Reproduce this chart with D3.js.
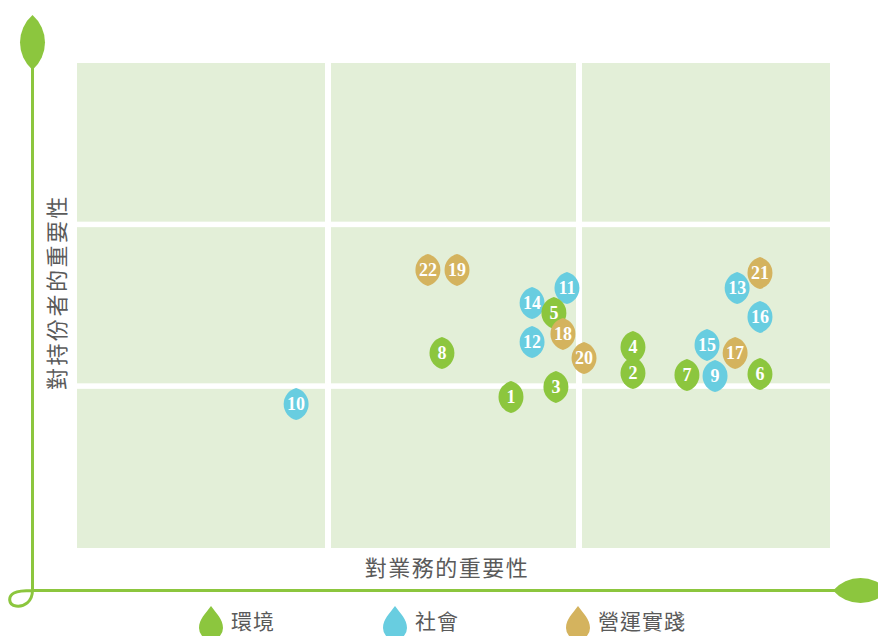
<!DOCTYPE html>
<html>
<head>
<meta charset="utf-8">
<script src="https://cdnjs.cloudflare.com/ajax/libs/d3/7.8.5/d3.min.js"></script>
<style>
  body { margin: 0; background: #fff; }
  .lbl { font-family: "Noto Sans CJK TC", "Noto Sans CJK SC", sans-serif; fill: #5a5a5a; }
</style>
</head>
<body>
<script>
    //Define Margin
    var margin = {left: 77, right: 48, top: 63, bottom: 88},
        width = 878 - margin.left - margin.right,
        height = 636 - margin.top - margin.bottom;

    //Define Color (one per topic group)
    var colors = d3.scaleOrdinal()
        .domain(["環境", "社會", "營運實踐"])
        .range(["#8cc63e", "#68cde0", "#d4b35e"]);

    //Define SVG
    var svg = d3.select("body")
        .append("svg")
        .attr("width", width + margin.left + margin.right)
        .attr("height", height + margin.top + margin.bottom)
        .append("g")
        .attr("transform", "translate(" + margin.left + "," + margin.top + ")");
    var graph = d3.select("svg");

    //Define Scales - 3 levels (low / mid / high) on each axis
    var xScale = d3.scaleLinear().domain([0, 3]).range([0, width]);
    var yScale = d3.scaleLinear().domain([0, 3]).range([height, 0]);

    //x = importance to business, y = importance to stakeholders
    //drawn social first, then environment, then operations (that's how they overlap)
    var data = [
        {id: 9,  group: "社會", x: 2.542, y: 1.064},
        {id: 10, group: "社會", x: 0.873, y: 0.890},
        {id: 11, group: "社會", x: 1.952, y: 1.608},
        {id: 12, group: "社會", x: 1.813, y: 1.274},
        {id: 13, group: "社會", x: 2.630, y: 1.608},
        {id: 14, group: "社會", x: 1.813, y: 1.515},
        {id: 15, group: "社會", x: 2.510, y: 1.256},
        {id: 16, group: "社會", x: 2.721, y: 1.429},
        {id: 1,  group: "環境", x: 1.729, y: 0.934},
        {id: 2,  group: "環境", x: 2.215, y: 1.082},
        {id: 3,  group: "環境", x: 1.908, y: 0.996},
        {id: 4,  group: "環境", x: 2.215, y: 1.243},
        {id: 5,  group: "環境", x: 1.900, y: 1.454},
        {id: 6,  group: "環境", x: 2.721, y: 1.076},
        {id: 7,  group: "環境", x: 2.430, y: 1.070},
        {id: 8,  group: "環境", x: 1.454, y: 1.206},
        {id: 17, group: "營運實踐", x: 2.622, y: 1.206},
        {id: 18, group: "營運實踐", x: 1.936, y: 1.324},
        {id: 19, group: "營運實踐", x: 1.514, y: 1.720},
        {id: 20, group: "營運實踐", x: 2.020, y: 1.175},
        {id: 21, group: "營運實踐", x: 2.721, y: 1.701},
        {id: 22, group: "營運實踐", x: 1.398, y: 1.720}
    ];

    //background cells, 3x3 with white gutters between them
    var gap = 3;
    var cells = [];
    d3.range(3).forEach(function(i) {
        d3.range(3).forEach(function(j) { cells.push({c: i, r: j}); });
    });
    svg.selectAll(".cell")
        .data(cells)
        .enter().append("rect")
        .attr("class", "cell")
        .attr("x", function(d) { return xScale(d.c) + (d.c > 0 ? gap : 0); })
        .attr("y", function(d) { return yScale(d.r + 1) + (d.r < 2 ? gap - 0.5 : 0); })
        .attr("width", function(d) { return xScale(d.c + 1) - xScale(d.c) - (d.c > 0 ? gap : 0) - (d.c < 2 ? gap : 0); })
        .attr("height", function(d) { return yScale(d.r) - yScale(d.r + 1) - (d.r > 0 ? gap : 0) - (d.r < 2 ? gap - 0.5 : 0); })
        .style("fill", "#e3efd8");

    //the leaf axes: vertical stem, a little curl at the corner, horizontal stem
    var green = "#8cc63e";
    graph.append("path")
        .attr("d", "M32.5,68 L32.5,590 C32.5,602 24,607 16,606 C8,605 8,596 14,593 C18,591 24,590.5 32.5,590.5 L836,590.5")
        .style("fill", "none")
        .style("stroke", green)
        .style("stroke-width", 3);
    //top leaf
    graph.append("path")
        .attr("d", "M32.5,15 A36.5,36.5 0 0 1 32.5,70 A36.5,36.5 0 0 1 32.5,15 Z")
        .style("fill", green);
    //right leaf
    graph.append("path")
        .attr("d", "M833,590.5 A36.5,36.5 0 0 1 888,590.5 A36.5,36.5 0 0 1 833,590.5 Z")
        .style("fill", green);

    //axis labels
    graph.append("text")
        .attr("class", "lbl")
        .attr("x", 447)
        .attr("y", 576)
        .style("text-anchor", "middle")
        .style("font-size", "22px")
        .style("letter-spacing", "1.5px")
        .text("對業務的重要性");
    graph.append("text")
        .attr("class", "lbl")
        .attr("transform", "translate(65,292) rotate(-90)")
        .style("text-anchor", "middle")
        .style("font-size", "22px")
        .style("letter-spacing", "2.5px")
        .text("對持份者的重要性");

    //leaf marker (pointed top and bottom)
    var leaf = "M0,-16 A16.5,16.5 0 0 1 0,16 A16.5,16.5 0 0 1 0,-16 Z";

    var marks = svg.selectAll(".mark")
        .data(data)
        .enter().append("g")
        .attr("class", "mark")
        .attr("transform", function(d) { return "translate(" + xScale(d.x) + "," + yScale(d.y) + ")"; });
    marks.append("path")
        .attr("d", leaf)
        .style("fill", function(d) { return colors(d.group); });
    marks.append("text")
        .attr("dy", "0.35em")
        .style("text-anchor", "middle")
        .style("font-family", "'Liberation Serif', 'DejaVu Serif', serif")
        .style("font-size", "18px")
        .style("font-weight", "bold")
        .style("fill", "white")
        .text(function(d) { return d.id; });

    //legend at the bottom, teardrop icon + name
    var legendX = [211, 395, 578];
    var drop = "M0,-18 C5,-11 12,-5 12,4 A12,12 0 0 1 -12,4 C-12,-5 -5,-11 0,-18 Z";
    var legend = graph.selectAll(".legend")
        .data(colors.domain())
        .enter().append("g")
        .attr("class", "legend")
        .attr("transform", function(d, i) { return "translate(" + legendX[i] + ",624)"; });
    legend.append("path")
        .attr("d", drop)
        .style("fill", function(d) { return colors(d); });
    legend.append("text")
        .attr("class", "lbl")
        .attr("x", 20)
        .attr("y", 5)
        .style("font-size", "21px")
        .style("letter-spacing", "1px")
        .text(function(d) { return d; });
</script>
</body>
</html>
